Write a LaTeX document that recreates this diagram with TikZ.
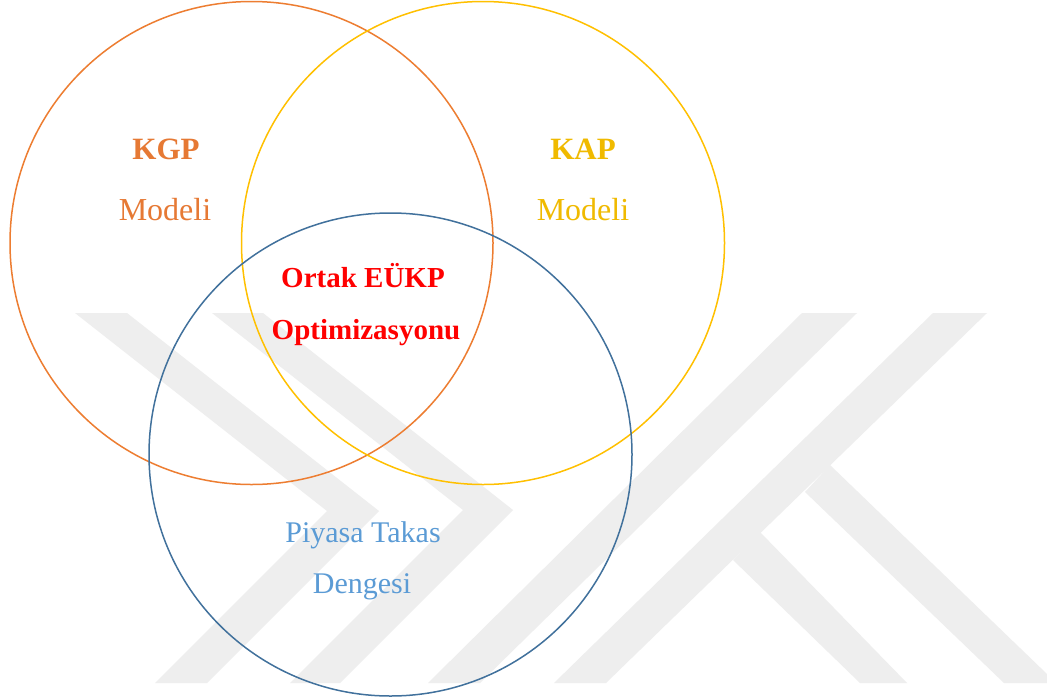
\documentclass[tikz,border=0pt]{standalone}
\usepackage{fontspec}
\setmainfont{Liberation Serif}
\definecolor{wm}{RGB}{238,238,238}
\definecolor{kgpc}{RGB}{237,125,49}
\definecolor{kapc}{RGB}{255,192,0}
\definecolor{ptdc}{RGB}{65,113,156}
\definecolor{kgptext}{RGB}{230,121,52}
\definecolor{kaptext}{RGB}{240,186,0}
\definecolor{ptdtext}{RGB}{91,155,213}
\definecolor{redtext}{RGB}{255,0,0}
\begin{document}
\begin{tikzpicture}[x=1pt,y=-1pt,
  ring/.style={circle, draw=#1, line width=1.5pt, minimum size=483pt, inner sep=0pt},
  wmark/.style={fill=wm, draw=none},
  lab/.style={anchor=base, inner sep=0pt, text=#1},
  bigb/.style={font=\fontsize{31pt}{37pt}\selectfont\bfseries},
  bigr/.style={font=\fontsize{32pt}{38pt}\selectfont},
  redb/.style={font=\fontsize{29pt}{35pt}\selectfont\bfseries},
  medr/.style={font=\fontsize{30pt}{36pt}\selectfont}
 ]
\useasboundingbox[fill=white] (0,0) rectangle (1047,699);
% watermark
\fill[wmark] (75,313) -- (127,313) -- (379,511) -- (207,683) -- (155,683) -- (327,511) -- cycle;
\fill[wmark] (212,313) -- (263,313) -- (513,510) -- (340,683) -- (290,683) -- (463,510) -- cycle;
\fill[wmark] (802,313) -- (857,313) -- (480,683) -- (428,683) -- cycle;
\fill[wmark] (933,313) -- (987,313) -- (606,683) -- (554,683) -- cycle;
\fill[wmark] (830,465) -- (1047,674) -- (1047,683) -- (1004,683) -- (805,492) -- cycle;
\fill[wmark] (760,532) -- (907,683) -- (860,683) -- (733,560) -- cycle;
% circles
\node[ring=kgpc] (kgp) at (251.5,243) {};
\node[ring=kapc] (kap) at (483,243) {};
\node[ring=ptdc] (ptd) at (390.5,454.5) {};
% labels
\node[lab=kgptext, bigb] (t1) at (166,159) {KGP};
\node[lab=kgptext, bigr] (t2) at (165,220) {Modeli};
\node[lab=kaptext, bigb] (t3) at (583,159) {KAP};
\node[lab=kaptext, bigr] (t4) at (583,220) {Modeli};
\node[lab=redtext, redb] (t5) at (363,287) {Ortak EÜKP};
\node[lab=redtext, redb] (t6) at (366,339) {Optimizasyonu};
\node[lab=ptdtext, medr] (t7) at (363,542) {Piyasa Takas};
\node[lab=ptdtext, medr] (t8) at (362,593) {Dengesi};
\end{tikzpicture}
\end{document}
